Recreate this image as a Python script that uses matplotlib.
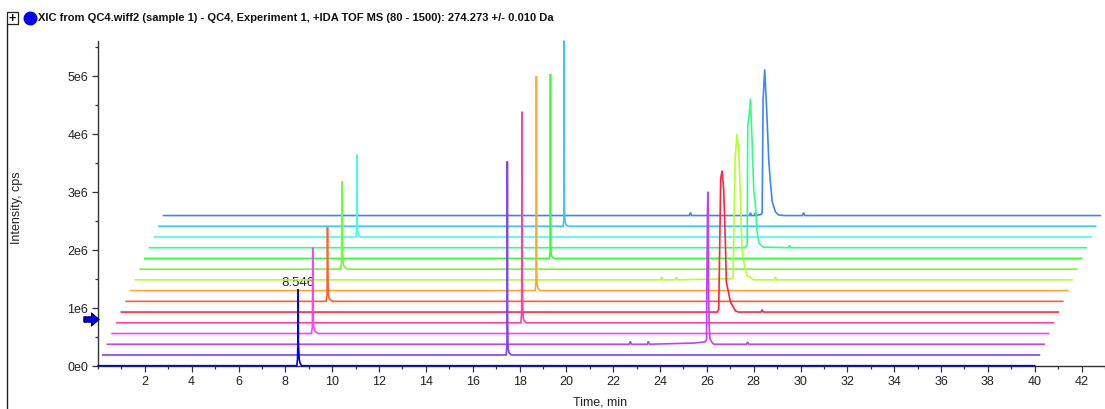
import numpy as np
import matplotlib
matplotlib.use("Agg")
import matplotlib.pyplot as plt
from matplotlib.path import Path
from matplotlib.ticker import MultipleLocator, FixedLocator, FuncFormatter

plt.rcParams['font.family'] = ['Liberation Sans', 'DejaVu Sans']

title = "XIC from QC4.wiff2 (sample 1) - QC4, Experiment 1, +IDA TOF MS (80 - 1500): 274.273 +/- 0.010 Da"

# one XIC per injection, bottom to top; each run is 0-40 min
run_end = 40.0
shift_t = 0.2        # waterfall offset in min per trace
shift_i = 0.185e6    # waterfall offset in cps per trace

colors = ['#0000ff', '#8040ff', '#c040ff', '#ff40ff', '#ff40a8', '#ff2440',
          '#ff6030', '#ffa830', '#b4ff30', '#6cff30', '#30ff30', '#30ff88',
          '#40ffe8', '#38c8ff', '#3c84ff']

# retention time (min) of the points that are off the baseline
times = [
    [8.49, 8.52, 8.535, 8.546, 8.556, 8.57, 8.59, 8.63, 8.70],
    [17.23, 17.26, 17.272, 17.28, 17.29, 17.31, 17.35, 17.45],
    [22.28, 22.33, 22.38, 23.05, 23.10, 23.15, 25.04, 25.50, 25.54, 25.585,
     25.595, 25.625, 25.64, 25.655, 25.675, 25.70, 25.73, 25.80, 25.90,
     27.29, 27.34, 27.39],
    [8.51, 8.55, 8.562, 8.57, 8.58, 8.60, 8.64, 8.72, 8.80],
    [17.26, 17.29, 17.302, 17.31, 17.32, 17.34, 17.38, 17.48],
    [25.45, 25.505, 25.55, 25.59, 25.65, 25.72, 25.79, 25.83, 26.01, 26.22,
     26.35, 27.31, 27.36, 27.41],
    [8.54, 8.58, 8.592, 8.60, 8.61, 8.63, 8.67, 8.75, 8.82],
    [17.27, 17.30, 17.312, 17.32, 17.33, 17.35, 17.39, 17.48],
    [22.41, 22.46, 22.51, 23.05, 23.10, 23.15, 25.45, 25.52, 25.56, 25.605,
     25.69, 25.76, 25.83, 25.90, 26.00, 26.12, 26.40, 27.28, 27.33, 27.38],
    [8.56, 8.60, 8.612, 8.62, 8.63, 8.65, 8.69, 8.77, 8.85],
    [17.27, 17.30, 17.312, 17.32, 17.33, 17.35, 17.40, 17.48],
    [25.45, 25.52, 25.545, 25.61, 25.66, 25.73, 25.80, 25.87, 25.94, 26.02,
     26.21, 27.28, 27.33, 27.38],
    [8.60, 8.64, 8.652, 8.66, 8.67, 8.69, 8.73, 8.80],
    [17.26, 17.29, 17.302, 17.31, 17.32, 17.34, 17.38, 17.47],
    [22.45, 22.50, 22.55, 25.02, 25.06, 25.10, 25.23, 25.27, 25.31, 25.52,
     25.56, 25.60, 25.67, 25.77, 25.84, 25.91, 25.99, 26.13, 26.26, 26.50,
     27.28, 27.33, 27.38],
]

# intensity in units of 1e6 cps at the times above
counts = [
    [0, 0.12, 0.45, 1.32, 0.40, 0.30, 0.12, 0.04, 0],
    [0, 0.15, 0.65, 3.34, 0.60, 0.12, 0.04, 0],
    [0, 0.05, 0, 0, 0.05, 0, 0.02, 0.04, 0.05, 0.08,
     0.83, 2.30, 2.63, 2.30, 0.83, 0.30, 0.10, 0.04, 0,
     0, 0.04, 0],
    [0, 0.10, 0.65, 1.48, 0.62, 0.15, 0.06, 0.02, 0],
    [0, 0.20, 2.95, 3.64, 0.70, 0.15, 0.05, 0],
    [0, 0.05, 1.20, 2.30, 2.44, 2.10, 1.20, 0.52, 0.17, 0.02,
     0, 0, 0.04, 0],
    [0, 0.12, 0.90, 1.28, 0.85, 0.15, 0.05, 0.02, 0],
    [0, 0.15, 0.40, 3.70, 0.36, 0.12, 0.04, 0],
    [0, 0.05, 0, 0, 0.05, 0, 0.02, 0.05, 1.00, 2.09,
     2.52, 2.20, 1.50, 0.53, 0.25, 0.07, 0, 0, 0.05, 0],
    [0, 0.12, 1.27, 1.52, 1.20, 0.18, 0.06, 0.02, 0],
    [0, 0.08, 0.22, 3.18, 0.20, 0.07, 0.02, 0],
    [0, 0.05, 2.10, 2.30, 2.57, 1.85, 1.00, 0.75, 0.30, 0.08,
     0.01, 0, 0.04, 0],
    [0, 0.10, 0.28, 1.42, 0.26, 0.10, 0.04, 0],
    [0, 0.10, 0.36, 3.20, 0.34, 0.10, 0.03, 0],
    [0, 0.05, 0, 0, 0.05, 0, 0, 0.05, 0, 0.02,
     0.05, 2.00, 2.52, 1.67, 0.97, 0.58, 0.24, 0.06, 0.01, 0,
     0, 0.05, 0],
]

apex_label = "8.546"
apex_time = 8.546
apex_count = 1.32

fig = plt.figure(figsize=(11.05, 4.10), dpi=100)
ax = fig.add_axes([98 / 1105, 43.3 / 410, 1007 / 1105, 324.7 / 410])

n = len(colors)
for i in range(n):
    t = np.concatenate([[0.0], times[i], [run_end]])
    c = np.concatenate([[0.0], counts[i], [0.0]]) * 1e6
    ax.plot(t + i * shift_t, c + i * shift_i, color=colors[i], lw=1.2,
            zorder=50 - i, clip_on=False, solid_joinstyle='miter')

ax.annotate(apex_label, xy=(apex_time, apex_count * 1e6), xytext=(0, 1),
            textcoords='offset points', ha='center', va='bottom',
            fontsize=9.5, color='#222222')

ax.set_xlim(0, 43.0)
ax.set_ylim(0, 5.6e6)

ax.xaxis.set_major_locator(FixedLocator(np.arange(2, 43, 2)))
ax.xaxis.set_minor_locator(MultipleLocator(1))
ax.yaxis.set_major_locator(MultipleLocator(1e6))
ax.yaxis.set_minor_locator(MultipleLocator(0.5e6))
ax.yaxis.set_major_formatter(FuncFormatter(
    lambda v, p: '0e0' if v == 0 else '%de6' % round(v / 1e6)))

ax.tick_params(which='major', direction='out', length=4, width=0.9,
               color='#333333', labelsize=9, labelcolor='#222222', pad=3)
ax.tick_params(which='minor', direction='out', length=2.5, width=0.9,
               color='#333333')

for side in ['top', 'right']:
    ax.spines[side].set_visible(False)
for side in ['left', 'bottom']:
    ax.spines[side].set_color('#333333')
    ax.spines[side].set_linewidth(1.0)

# blue block arrow on the intensity axis
arrow = Path([(-1, -0.35), (0, -0.35), (0, -0.85), (1, 0), (0, 0.85),
              (0, 0.35), (-1, 0.35), (-1, -0.35)])
ax.plot([-0.32], [0.8e6], marker=arrow, ms=11, color='#0000ff',
        mec='#000033', mew=0.8, clip_on=False, zorder=60)

fig.text(17 / 1105, 1 - 208 / 410, "Intensity, cps", rotation=90,
         ha='center', va='center', fontsize=9, color='#222222')
fig.text(600 / 1105, 1 - 403 / 410, "Time, min", ha='center', va='center',
         fontsize=9, color='#222222')

# header strip: expand box, blue dot and the XIC description
fig.add_artist(plt.Rectangle((7 / 1105, 1 - 25 / 410), 11 / 1105, 12 / 410,
                             transform=fig.transFigure, fill=False,
                             ec='#222222', lw=0.9))
fig.text(12.5 / 1105, 1 - 19 / 410, "+", ha='center', va='center',
         fontsize=9, fontweight='bold', color='#111111')
fig.add_artist(plt.Line2D([7 / 1105, 7 / 1105], [0, 1 - 25 / 410],
                          transform=fig.transFigure, color='#222222', lw=1.0))
fig.add_artist(plt.Line2D([30 / 1105], [1 - 19 / 410], marker='o', ms=9,
                          color='#0000ee', transform=fig.transFigure))
fig.text(38 / 1105, 1 - 18 / 410, title, ha='left', va='center',
         fontsize=8, fontweight='bold', color='#111111')

fig.savefig("out.png", dpi=100)
